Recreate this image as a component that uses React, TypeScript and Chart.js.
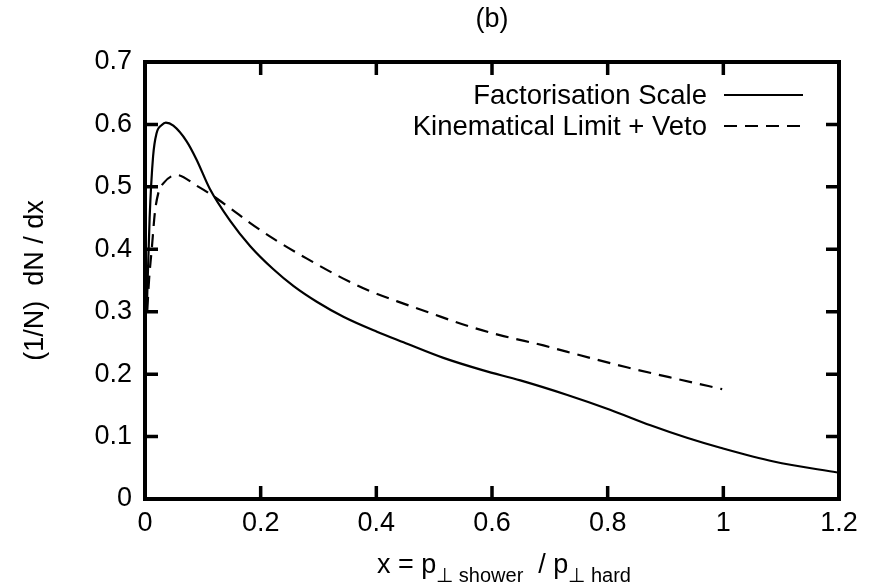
import React, { useEffect, useRef } from 'react';
import { Chart, registerables } from 'chart.js';

Chart.register(...registerables);

// ---------- data ----------
const chartTitle = '(b)';
const yAxisTitle = '(1/N)  dN / dx';
const seriesNames = ['Factorisation Scale', 'Kinematical Limit + Veto'];

const xTickValues = [0, 0.2, 0.4, 0.6, 0.8, 1, 1.2];
const xTickLabels = ['0', '0.2', '0.4', '0.6', '0.8', '1', '1.2'];
const yTickValues = [0, 0.1, 0.2, 0.3, 0.4, 0.5, 0.6, 0.7];
const yTickLabels = ['0', '0.1', '0.2', '0.3', '0.4', '0.5', '0.6', '0.7'];

const factX = [0.003, 0.008, 0.014, 0.020, 0.029, 0.036, 0.049, 0.072, 0.089, 0.112, 0.147, 0.182, 0.222, 0.257, 0.297, 0.343, 0.401, 0.447, 0.516, 0.585, 0.649, 0.729, 0.804, 0.874, 0.937, 0.995, 1.087, 1.2];
const factY = [0.30, 0.45, 0.549, 0.586, 0.599, 0.603, 0.598, 0.573, 0.544, 0.497, 0.446, 0.405, 0.368, 0.341, 0.316, 0.292, 0.268, 0.251, 0.226, 0.206, 0.190, 0.167, 0.143, 0.118, 0.098, 0.082, 0.060, 0.042];

const kinX = [0.004, 0.007, 0.012, 0.017, 0.023, 0.032, 0.055, 0.089, 0.112, 0.147, 0.182, 0.222, 0.280, 0.343, 0.389, 0.435, 0.493, 0.562, 0.620, 0.689, 0.729, 0.833, 0.926, 0.998];
const kinY = [0.303, 0.351, 0.404, 0.458, 0.490, 0.506, 0.519, 0.502, 0.489, 0.466, 0.442, 0.417, 0.385, 0.353, 0.333, 0.317, 0.298, 0.276, 0.261, 0.246, 0.236, 0.211, 0.191, 0.176];

// ---------- style ----------
const FONT = '"Liberation Sans", Arial, Helvetica, sans-serif';
const MAIN_SIZE = 27;
const LEGEND_SIZE = 27.5;
const SUB_SIZE = 20;
const DASH = [13, 8];

const App: React.FC = () => {
  const canvasRef = useRef<HTMLCanvasElement | null>(null);

  useEffect(() => {
    const canvas = canvasRef.current;
    if (!canvas) return;

    const decorations = {
      id: 'gnuplotDecor',
      afterDraw(chart: any) {
        const { ctx, chartArea } = chart;
        const xs = chart.scales.x;
        const ys = chart.scales.y;
        const { left, right, top, bottom } = chartArea;
        ctx.save();
        ctx.strokeStyle = '#000';
        ctx.fillStyle = '#000';

        // inward ticks
        const tl = 13;
        ctx.lineWidth = 3.5;
        ctx.beginPath();
        yTickValues.forEach((v) => {
          const py = ys.getPixelForValue(v);
          ctx.moveTo(left, py); ctx.lineTo(left + tl, py);
          ctx.moveTo(right, py); ctx.lineTo(right - tl, py);
        });
        xTickValues.forEach((v) => {
          const px = xs.getPixelForValue(v);
          ctx.moveTo(px, bottom); ctx.lineTo(px, bottom - tl);
          ctx.moveTo(px, top); ctx.lineTo(px, top + tl);
        });
        ctx.stroke();

        // border
        ctx.lineWidth = 4;
        ctx.strokeRect(left, top, right - left, bottom - top);

        // title
        ctx.font = `${MAIN_SIZE}px ${FONT}`;
        ctx.textAlign = 'center';
        ctx.textBaseline = 'alphabetic';
        ctx.fillText(chartTitle, (left + right) / 2, 27);

        // y title
        ctx.save();
        ctx.translate(36, (top + bottom) / 2);
        ctx.rotate(-Math.PI / 2);
        ctx.textAlign = 'center';
        ctx.textBaseline = 'middle';
        ctx.fillText(yAxisTitle, 0, 0);
        ctx.restore();

        // x title with subscripts
        const mainBase = 573;
        const subBase = 582;
        const parts: [string, boolean][] = [
          ['x = p', false],
          ['\u22A5 shower', true],
          ['  / p', false],
          ['\u22A5 hard', true],
        ];
        let cx = 377;
        ctx.textAlign = 'left';
        ctx.textBaseline = 'alphabetic';
        parts.forEach(([t, sub]) => {
          ctx.font = `${sub ? SUB_SIZE : MAIN_SIZE}px ${FONT}`;
          ctx.fillText(t, cx, sub ? subBase : mainBase);
          cx += ctx.measureText(t).width;
        });

        // legend
        ctx.font = `${LEGEND_SIZE}px ${FONT}`;
        ctx.textAlign = 'right';
        ctx.textBaseline = 'middle';
        const rows = [95, 126];
        const sx0 = 724, sx1 = 803;
        chart.data.datasets.forEach((ds: any, i: number) => {
          const y = rows[i];
          ctx.fillText(seriesNames[i], 707, y + 1);
          ctx.lineWidth = 2.2;
          ctx.setLineDash(ds.borderDash || []);
          ctx.beginPath();
          ctx.moveTo(sx0, y); ctx.lineTo(sx1, y);
          ctx.stroke();
          ctx.setLineDash([]);
        });
        ctx.restore();
      },
    };

    const chart = new Chart(canvas, {
      type: 'line',
      data: {
        datasets: [
          {
            label: seriesNames[0],
            data: factX.map((x, i) => ({ x, y: factY[i] })),
            borderColor: '#000',
            borderWidth: 2.2,
            pointRadius: 0,
            fill: false,
            cubicInterpolationMode: 'monotone',
          },
          {
            label: seriesNames[1],
            data: kinX.map((x, i) => ({ x, y: kinY[i] })),
            borderColor: '#000',
            borderWidth: 2.2,
            borderDash: DASH,
            pointRadius: 0,
            fill: false,
            cubicInterpolationMode: 'monotone',
          },
        ],
      },
      options: {
        responsive: false,
        animation: false,
        layout: { padding: { left: 0, right: 41, top: 62, bottom: 0 } },
        plugins: {
          legend: { display: false },
          title: { display: false },
          tooltip: { enabled: false },
        },
        scales: {
          x: {
            type: 'linear',
            min: 0,
            max: 1.2,
            grid: { display: false, drawTicks: false },
            border: { display: false },
            afterBuildTicks: (scale: any) => {
              scale.ticks = xTickValues.map((v) => ({ value: v }));
            },
            afterFit: (scale: any) => { scale.height = 87; },
            ticks: {
              padding: 8,
              color: '#000',
              font: { family: FONT, size: MAIN_SIZE },
              maxRotation: 0,
              autoSkip: false,
              callback: (v: any) => {
                const i = xTickValues.findIndex((t) => Math.abs(t - Number(v)) < 1e-9);
                return i >= 0 ? xTickLabels[i] : '';
              },
            },
          },
          y: {
            type: 'linear',
            min: 0,
            max: 0.7,
            grid: { display: false, drawTicks: false },
            border: { display: false },
            afterBuildTicks: (scale: any) => {
              scale.ticks = yTickValues.map((v) => ({ value: v }));
            },
            afterFit: (scale: any) => { scale.width = 145; },
            ticks: {
              padding: 13,
              color: '#000',
              font: { family: FONT, size: MAIN_SIZE },
              autoSkip: false,
              callback: (v: any) => {
                const i = yTickValues.findIndex((t) => Math.abs(t - Number(v)) < 1e-9);
                return i >= 0 ? yTickLabels[i] : '';
              },
            },
          },
        },
      },
      plugins: [decorations],
    } as any);

    return () => chart.destroy();
  }, []);

  return (
    <div style={{ position: 'absolute', left: 0, top: 0, width: 880, height: 586, background: '#fff' }}>
      <canvas ref={canvasRef} width={880} height={586} style={{ display: 'block', width: 880, height: 586 }} />
    </div>
  );
};

export default App;
